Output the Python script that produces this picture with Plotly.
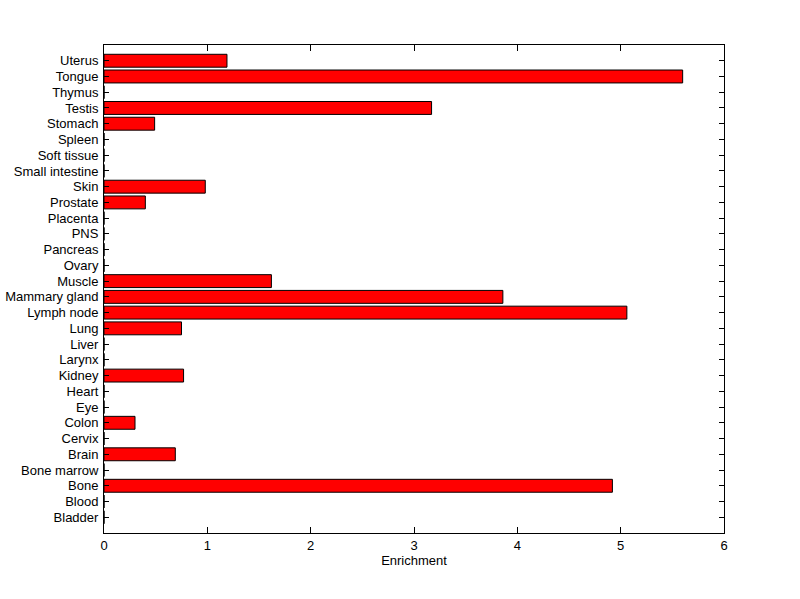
import plotly.graph_objects as go

tissues = ["Bladder", "Blood", "Bone", "Bone marrow", "Brain", "Cervix", "Colon", "Eye",
           "Heart", "Kidney", "Larynx", "Liver", "Lung", "Lymph node", "Mammary gland",
           "Muscle", "Ovary", "Pancreas", "PNS", "Placenta", "Prostate", "Skin",
           "Small intestine", "Soft tissue", "Spleen", "Stomach", "Testis", "Thymus",
           "Tongue", "Uterus"]
enrichment = [0, 0, 4.92, 0, 0.69, 0, 0.30, 0,
              0, 0.77, 0, 0, 0.75, 5.06, 3.86,
              1.62, 0, 0, 0, 0, 0.40, 0.98,
              0, 0, 0, 0.49, 3.17, 0,
              5.60, 1.19]
x_ticks = [0, 1, 2, 3, 4, 5, 6]

fig = go.Figure(go.Bar(
    x=enrichment, y=tissues, orientation="h",
    marker=dict(color="#FF0000", line=dict(color="black", width=1)),
    width=0.82,
))

fig.update_layout(
    width=800, height=599,
    margin=dict(l=104, r=76, t=45, b=66),
    paper_bgcolor="white", plot_bgcolor="white",
    font=dict(family="Liberation Sans, Arial, sans-serif", size=13, color="black"),
    showlegend=False,
)
fig.update_xaxes(
    range=[0, 6], tickvals=x_ticks, ticks="inside", ticklen=6, tickcolor="black",
    showline=True, linecolor="black", linewidth=1, mirror="ticks",
    showgrid=False, zeroline=False, automargin=False,
    title=dict(text="Enrichment", font=dict(size=13), standoff=4),
)
fig.update_yaxes(
    type="category", categoryorder="array", categoryarray=tissues,
    tickmode="array", tickvals=tissues, ticktext=tissues,
    range=[-1, len(tissues)], ticks="inside", ticklen=5, tickcolor="black",
    showline=True, linecolor="black", linewidth=1, mirror="ticks",
    showgrid=False, zeroline=False, ticklabelstandoff=2, automargin=False,
)

fig.write_html(
    "out.html",
    config={"displayModeBar": False},
    post_script="document.body.style.margin='0';document.body.style.padding='0';",
)
